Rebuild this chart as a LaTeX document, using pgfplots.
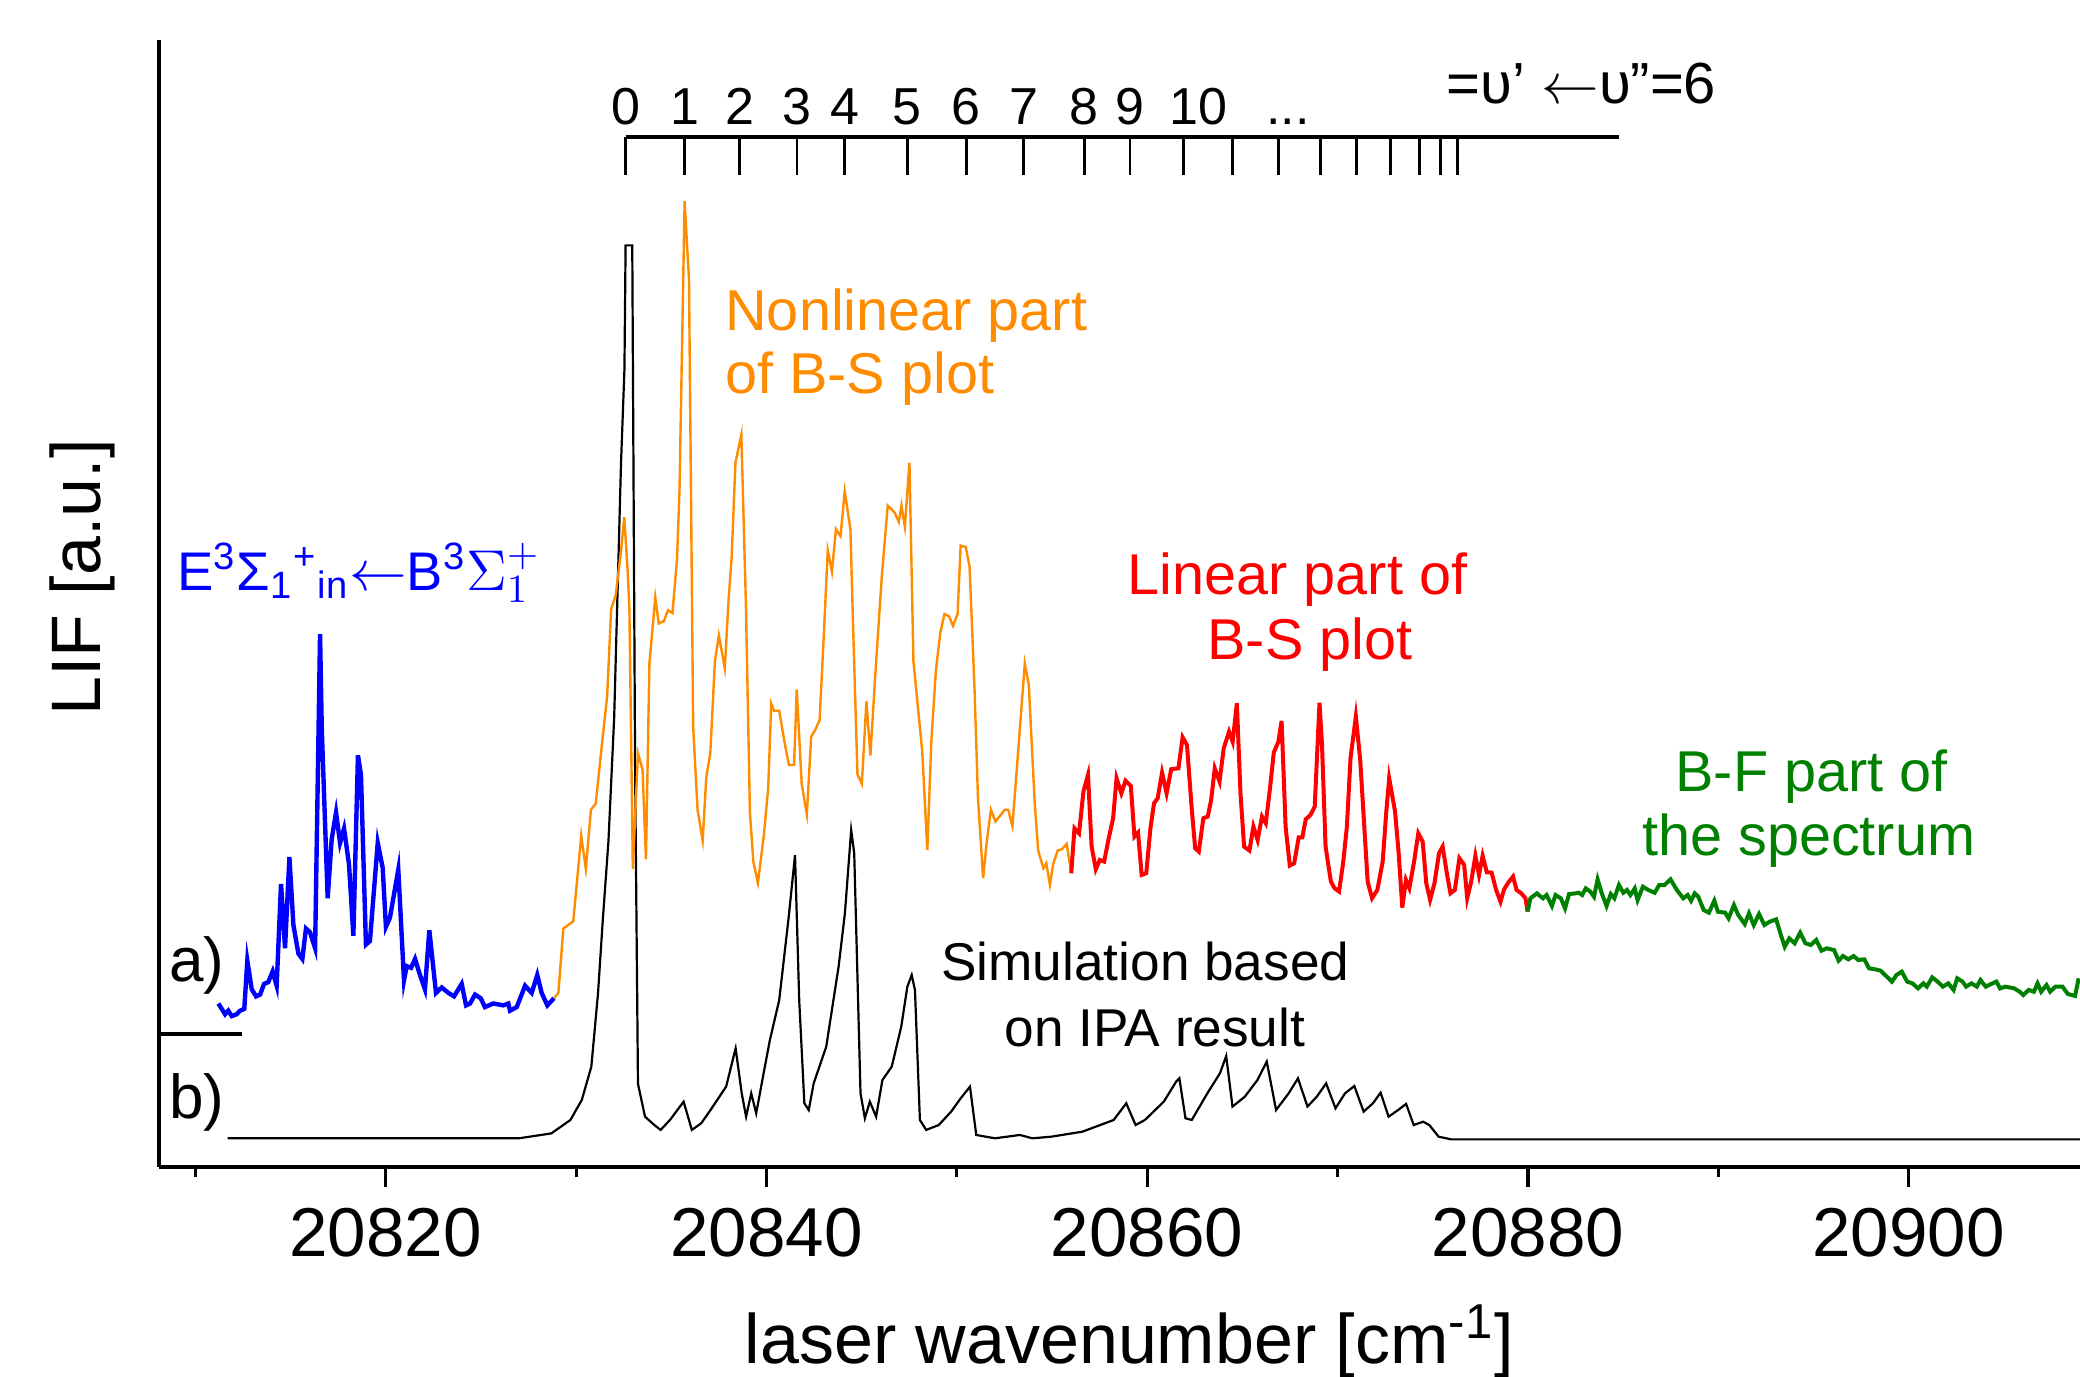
\documentclass[border=0pt]{standalone}
\usepackage{fontspec}
\setmainfont{Liberation Sans}
\usepackage{pgfplots}
\pgfplotsset{compat=1.18}

\definecolor{bsorange}{RGB}{255,140,0}
\definecolor{bfgreen}{RGB}{0,128,0}
\newcommand{\lblfont}{\fontsize{14.4}{17}\selectfont}

\begin{document}
\begin{tikzpicture}
\begin{axis}[
  scale only axis,
  width=480.2pt, height=281.9pt,
  xmin=20808.1, xmax=20909,
  ymin=0, ymax=850,
  axis x line*=bottom, axis y line*=left,
  axis line style={line width=1pt},
  xtick={20820,20840,...,20900},
  minor xtick={20810,20830,...,20890},
  ytick=\empty,
  scaled x ticks=false,
  tick align=outside,
  major tick length=5pt, minor tick length=2.5pt,
  every tick/.style={black, line width=0.8pt},
  /pgf/number format/assume math mode=true,
  x tick label style={font=\fontsize{17.3}{20}\selectfont, yshift=-1.7pt,
    /pgf/number format/fixed, /pgf/number format/precision=0, /pgf/number format/1000 sep={}},
  xlabel={laser wavenumber [cm\textsuperscript{-1}]},
  ylabel={LIF [a.u.]},
  label style={font=\fontsize{17.5}{20}\selectfont},
  xlabel style={at={(axis description cs:0.505,-0.154)}, anchor=center},
  ylabel style={at={(axis description cs:-0.0401,0.523)}, anchor=center},
  unbounded coords=jump,
  clip=false,
]
\coordinate (bl) at (rel axis cs:0,0);
\coordinate (tr) at (rel axis cs:1,1);

% b) simulation
\addplot[black, line width=0.55pt] coordinates {
(20811.7,22)(20826.9,22)(20827.05,22)(20828.7,25.6)(20829.7,35.7)(20830.3,50.8)(20830.8,75.9)
(20831.15,131)(20831.4,186)(20831.7,246)(20832.0,339)(20832.36,531)(20832.54,602)(20832.6,695)
(20832.95,695)(20833.1,300)(20833.25,63)(20833.62,38.2)(20834.11,31.9)(20834.44,28.2)(20834.93,35.7)
(20835.65,49.5)(20836.08,28.2)(20836.57,33.2)(20837.06,43.2)(20837.88,60.8)(20838.38,89.7)(20838.70,55.8)
(20838.93,38.2)(20839.20,55.8)(20839.46,40.7)(20839.85,70.9)(20840.18,96.0)(20840.67,126.1)(20841.17,189.0)
(20841.50,235.4)(20841.72,126.1)(20841.99,48.3)(20842.22,43.2)(20842.48,63.3)(20843.14,91.0)(20843.79,151.3)
(20844.12,191.5)(20844.45,254.3)(20844.61,236.7)(20844.94,55.8)(20845.17,37.0)(20845.43,49.5)(20845.76,38.2)
(20846.09,65.8)(20846.58,75.9)(20847.08,106.0)(20847.40,136.2)(20847.63,145.0)(20847.80,133.7)(20848.06,35.7)
(20848.39,28.2)(20849.05,31.9)(20849.70,42.0)(20850.20,52.0)(20850.69,60.8)(20851.02,24.4)(20852.0,21.9)
(20853.31,24.4)(20853.97,21.9)(20854.96,23.1)(20856.6,26.9)(20858.24,35.7)(20858.9,48.3)(20859.39,31.9)
(20859.88,35.7)(20860.87,49.5)(20861.52,64.6)(20861.69,67.1)(20862.01,37.0)(20862.34,35.7)(20863.16,55.8)
(20863.82,70.9)(20864.15,83.9)(20864.48,45.8)(20865.13,53.3)(20865.79,65.8)(20866.28,79.7)(20866.77,43.2)
(20867.43,55.8)(20867.92,67.1)(20868.42,45.8)(20868.91,53.3)(20869.40,63.3)(20869.89,44.5)(20870.39,55.8)
(20870.88,61.3)(20871.37,42.0)(20871.86,48.3)(20872.26,56.3)(20872.68,38.2)(20873.18,43.2)(20873.60,47.8)
(20874.0,31.9)(20874.49,34.4)(20874.82,31.9)(20875.31,23.1)(20875.97,21.1)(20909,21.1)
};

% a) E <- B band (blue)
\addplot[blue, line width=1.1pt] coordinates {
(20811.21,123.5)(20811.56,115.4)(20811.73,118.1)(20811.91,114.0)(20812.17,115.4)(20812.35,118.1)(20812.57,119.4)
(20812.73,155.8)(20812.96,134.2)(20813.19,128.9)(20813.40,130.2)(20813.61,138.3)(20813.83,139.6)(20814.06,147.7)
(20814.27,136.9)(20814.50,213.6)(20814.71,165.2)(20814.94,233.9)(20815.15,182.7)(20815.41,161.2)(20815.62,157.1)
(20815.81,180.0)(20816.02,177.3)(20816.29,165.2)(20816.55,402)(20816.64,330.8)(20816.95,202.9)(20817.16,247.3)
(20817.39,267.5)(20817.60,244.6)(20817.81,255.4)(20818.07,228.5)(20818.30,174.6)(20818.54,310.6)(20818.70,295.8)
(20818.96,167.9)(20819.17,170.6)(20819.58,244.6)(20819.84,225.8)(20820.01,181.3)(20820.22,188.1)(20820.66,224.4)
(20820.96,141.0)(20821.10,151.7)(20821.33,150.4)(20821.54,157.1)(20821.80,145.0)(20822.06,134.2)(20822.29,178.7)
(20822.64,131.5)(20822.94,135.6)(20823.29,131.5)(20823.59,128.9)(20823.99,138.3)(20824.22,122.1)(20824.43,123.5)
(20824.69,130.2)(20824.99,127.5)(20825.21,120.8)(20825.65,123.5)(20826.18,122.1)(20826.44,123.5)(20826.53,118.1)
(20826.88,120.8)(20827.32,136.9)(20827.67,131.5)(20827.96,145.0)(20828.19,131.5)(20828.49,122.1)(20828.84,127.5)
};

% a) nonlinear part (orange)
\addplot[bsorange, line width=0.6pt] coordinates {
(20828.84,127.5)(20829.07,131.5)(20829.33,180.0)(20829.85,185.4)(20830.27,250.0)(20830.51,225.1)(20830.78,269.6)
(20831.03,274.2)(20831.36,319.3)(20831.63,354.9)(20831.84,420.7)(20832.08,431.4)(20832.35,463.4)(20832.53,490.0)
(20832.71,449.1)(20832.80,420.7)(20832.98,225.1)(20833.25,312.2)(20833.49,299.8)(20833.67,232.2)(20833.85,379.8)
(20834.16,429.6)(20834.34,410.0)(20834.61,411.8)(20834.83,420.0)(20835.06,417.8)(20835.30,458.0)(20835.43,509.6)
(20835.70,728.3)(20835.93,669.6)(20836.15,331.8)(20836.38,269.6)(20836.65,246.4)(20836.84,294.5)(20837.05,312.2)
(20837.29,381.6)(20837.50,401.1)(20837.81,376.2)(20838.01,427.8)(20838.17,459.8)(20838.37,531.1)(20838.68,552.3)
(20838.92,424.3)(20839.13,267.8)(20839.31,230.4)(20839.55,214.4)(20839.86,250.0)(20840.09,285.6)(20840.25,349.6)
(20840.40,344.2)(20840.67,344.2)(20840.94,321.1)(20841.18,303.3)(20841.45,303.3)(20841.59,360.2)(20841.85,289.1)
(20842.12,266.0)(20842.35,324.7)(20842.57,330.0)(20842.79,337.1)(20842.97,388.7)(20843.22,465.1)(20843.44,449.1)
(20843.65,481.1)(20843.89,475.8)(20844.11,509.6)(20844.41,481.1)(20844.56,402.9)(20844.78,296.2)(20845.01,289.1)
(20845.25,351.3)(20845.46,310.4)(20845.73,374.5)(20846.06,445.6)(20846.37,498.9)(20846.73,493.6)(20846.95,486.5)
(20847.09,498.9)(20847.27,482.9)(20847.51,531.1)(20847.72,381.6)(20848.18,314.0)(20848.45,239.3)(20848.66,321.1)
(20848.90,374.5)(20849.13,402.9)(20849.35,417.1)(20849.59,415.4)(20849.80,408.2)(20850.04,417.1)(20850.20,468.7)
(20850.47,467.6)(20850.67,452.7)(20850.93,360.2)(20851.11,278.4)(20851.38,218.0)(20851.58,246.4)(20851.79,269.6)
(20852.03,260.7)(20852.52,269.6)(20852.70,269.6)(20852.92,257.1)(20853.28,324.7)(20853.57,379.8)(20853.78,363.8)
(20854.09,274.9)(20854.27,239.3)(20854.36,234.3)(20854.55,225.5)(20854.70,229.2)(20854.89,212.9)(20855.07,229.2)
(20855.30,238.8)(20855.52,239.8)(20855.77,243.8)(20856.01,221.7)
};

% a) linear part (red)
\addplot[red, line width=1pt] coordinates {
(20856.01,221.7)(20856.18,255.6)(20856.42,251.8)(20856.65,283.3)(20856.89,295.8)(20857.08,241.8)(20857.30,224.7)
(20857.51,231.7)(20857.74,230.5)(20857.96,246.8)(20858.21,263.2)(20858.39,293.3)(20858.64,282.0)(20858.86,291.5)
(20859.14,287.5)(20859.33,249.3)(20859.52,252.3)(20859.71,220.4)(20859.95,221.7)(20860.17,255.6)(20860.36,274.5)
(20860.55,278.2)(20860.78,297.6)(20861.02,282.0)(20861.26,300.1)(20861.64,300.8)(20861.86,324.2)(20862.09,318.4)
(20862.33,272.0)(20862.52,240.5)(20862.71,238.0)(20862.95,263.2)(20863.18,264.4)(20863.36,277.0)(20863.55,300.8)
(20863.80,290.8)(20864.02,315.9)(20864.30,328.5)(20864.49,320.9)(20864.71,349.8)(20864.90,282.0)(20865.09,241.8)
(20865.37,238.8)(20865.58,256.9)(20865.80,246.8)(20866.03,264.4)(20866.23,259.4)(20866.46,287.0)(20866.65,312.7)
(20866.89,320.9)(20867.06,336.5)(20867.27,256.9)(20867.49,227.5)(20867.72,229.2)(20867.96,248.8)(20868.15,248.8)
(20868.33,262.4)(20868.58,265.7)(20868.80,272.0)(20869.05,350.3)(20869.18,319.7)(20869.37,241.8)(20869.65,215.4)
(20869.84,210.4)(20870.08,207.9)(20870.30,230.5)(20870.49,256.9)(20870.68,308.4)(20870.96,339.8)(20871.19,307.1)
(20871.43,250.6)(20871.58,215.4)(20871.81,202.9)(20872.09,209.1)(20872.37,230.5)(20872.56,268.2)(20872.71,293.3)
(20873.02,268.2)(20873.21,236.8)(20873.40,195.8)(20873.59,216.7)(20873.77,210.4)(20874.02,230.5)(20874.24,251.8)
(20874.47,245.6)(20874.66,214.2)(20874.86,201.6)(20875.09,214.2)(20875.33,236.8)(20875.52,241.8)(20875.74,221.7)
(20875.93,206.6)(20876.16,209.1)(20876.40,233.0)(20876.65,228.0)(20876.81,202.9)(20877.02,215.4)(20877.24,234.8)
(20877.43,220.4)(20877.62,234.8)(20877.84,222.4)(20878.09,222.2)(20878.33,209.1)(20878.56,200.3)(20878.75,209.6)
(20878.97,214.7)(20879.22,219.2)(20879.40,209.1)(20879.65,206.6)(20879.87,202.9)(20879.98,192.8)
};

% a) B-F part (green)
\addplot[bfgreen, line width=1pt] coordinates {
(20879.98,192.8)(20880.13,202.8)(20880.47,206.5)(20880.79,202.8)(20880.98,205.3)(20881.26,197.0)(20881.45,205.3)
(20881.73,202.8)(20881.95,195.2)(20882.16,206.0)(20882.48,206.5)(20882.67,207.0)(20882.85,205.3)(20883.04,210.3)
(20883.28,207.8)(20883.47,204.0)(20883.66,217.1)(20883.88,206.5)(20884.13,197.0)(20884.35,206.0)(20884.54,202.8)
(20884.78,212.8)(20885.01,207.0)(20885.20,209.1)(20885.38,205.3)(20885.61,210.3)(20885.76,201.5)(20886.04,211.6)
(20886.32,209.1)(20886.66,207.0)(20886.89,212.8)(20887.17,212.8)(20887.49,217.1)(20887.82,209.1)(20888.16,202.8)
(20888.39,205.3)(20888.57,201.0)(20888.76,206.5)(20888.95,204.0)(20889.23,194.0)(20889.51,192.0)(20889.79,201.0)
(20889.98,192.7)(20890.36,192.0)(20890.54,187.7)(20890.82,197.7)(20891.05,190.2)(20891.39,183.4)(20891.61,191.5)
(20891.86,182.7)(20892.14,191.0)(20892.42,182.7)(20892.70,185.2)(20893.04,186.9)(20893.26,176.4)(20893.49,166.3)
(20893.73,172.6)(20894.01,168.9)(20894.30,176.9)(20894.58,168.9)(20894.86,167.6)(20895.14,171.4)(20895.42,163.3)
(20895.70,165.1)(20896.08,163.8)(20896.32,155.8)(20896.55,159.3)(20896.83,156.8)(20897.11,159.3)(20897.35,156.3)
(20897.67,156.8)(20897.92,150.0)(20898.23,149.3)(20898.52,148.3)(20898.89,143.2)(20899.12,140.0)(20899.36,145.0)
(20899.64,147.5)(20899.92,140.0)(20900.20,138.7)(20900.49,134.9)(20900.77,138.7)(20900.95,136.2)(20901.24,143.2)
(20901.52,140.0)(20901.80,136.2)(20902.08,138.7)(20902.36,133.7)(20902.55,142.5)(20902.83,140.0)(20903.02,136.2)
(20903.30,138.7)(20903.58,136.2)(20903.77,141.2)(20904.05,136.2)(20904.33,138.2)(20904.61,140.0)(20904.80,134.9)
(20905.08,136.2)(20905.55,134.9)(20905.83,132.4)(20906.02,129.9)(20906.30,133.7)(20906.58,132.4)(20906.77,138.7)
(20906.96,132.4)(20907.24,137.4)(20907.43,132.4)(20907.71,136.2)(20908.08,136.2)(20908.36,130.7)(20908.74,129.2)
(20908.93,142.5)
};

% zero level marker of trace a)
\addplot[black, line width=0.8pt] coordinates {(20808.1,100.5)(20812.43,100.5)};

% vibrational assignment comb
\addplot[black, line width=1pt] coordinates {(20832.6,776.5)(20884.8,776.5)};
\addplot[black, line width=0.7pt] coordinates {
(20832.6,776.5)(20832.6,748)(20832.6,nan)
(20835.7,776.5)(20835.7,748)(20835.7,nan)
(20838.6,776.5)(20838.6,748)(20838.6,nan)
(20841.6,776.5)(20841.6,748)(20841.6,nan)
(20844.1,776.5)(20844.1,748)(20844.1,nan)
(20847.4,776.5)(20847.4,748)(20847.4,nan)
(20850.5,776.5)(20850.5,748)(20850.5,nan)
(20853.5,776.5)(20853.5,748)(20853.5,nan)
(20856.7,776.5)(20856.7,748)(20856.7,nan)
(20859.1,776.5)(20859.1,748)(20859.1,nan)
(20861.9,776.5)(20861.9,748)(20861.9,nan)
(20864.5,776.5)(20864.5,748)(20864.5,nan)
(20866.9,776.5)(20866.9,748)(20866.9,nan)
(20869.1,776.5)(20869.1,748)(20869.1,nan)
(20871.0,776.5)(20871.0,748)(20871.0,nan)
(20872.8,776.5)(20872.8,748)(20872.8,nan)
(20874.3,776.5)(20874.3,748)(20874.3,nan)
(20875.4,776.5)(20875.4,748)(20875.4,nan)
(20876.3,776.5)(20876.3,748)
};

\begin{scope}[every node/.style={font=\fontsize{13}{15}\selectfont, anchor=base, inner sep=0pt}]
\node at (axis cs:20832.6,786) {0};
\node at (axis cs:20835.7,786) {1};
\node at (axis cs:20838.6,786) {2};
\node at (axis cs:20841.6,786) {3};
\node at (axis cs:20844.1,786) {4};
\node at (axis cs:20847.4,786) {5};
\node at (axis cs:20850.5,786) {6};
\node at (axis cs:20853.5,786) {7};
\node at (axis cs:20856.7,786) {8};
\node at (axis cs:20859.1,786) {9};
\node at (axis cs:20862.7,786) {10};
\node at (axis cs:20867.4,786) {...};
\node[anchor=base west, font=\fontsize{14.5}{17}\selectfont] at (axis cs:20875.7,802) {=υ' $\leftarrow$υ"=6};
\end{scope}

\node[anchor=base west, inner sep=0pt, font=\lblfont, text=bsorange] at (axis cs:20837.8,631) {Nonlinear part};
\node[anchor=base west, inner sep=0pt, font=\lblfont, text=bsorange] at (axis cs:20837.8,583.5) {of B-S plot};
\node[anchor=base, inner sep=0pt, font=\lblfont, text=red] at (axis cs:20867.9,432.2) {Linear part of};
\node[anchor=base, inner sep=0pt, font=\lblfont, text=red] at (axis cs:20868.55,382.5) {B-S plot};
\node[anchor=base, inner sep=0pt, font=\lblfont, text=bfgreen] at (axis cs:20894.9,283) {B-F part of};
\node[anchor=base, inner sep=0pt, font=\lblfont, text=bfgreen] at (axis cs:20894.75,235) {the spectrum};
\node[anchor=base west, inner sep=0pt, font=\fontsize{13.6}{16}\selectfont, text=blue] at (axis cs:20809.0,435.2)
  {E\textsuperscript{3}Σ\textsubscript{1}\textsuperscript{+}\textsubscript{in}$\leftarrow$B\textsuperscript{3}$\Sigma_1^+$};
\node[anchor=base, inner sep=0pt, font=\fontsize{13.3}{15}\selectfont] at (axis cs:20859.9,141.2) {Simulation based};
\node[anchor=base, inner sep=0pt, font=\fontsize{13.3}{15}\selectfont] at (axis cs:20860.4,91) {on IPA result};
\node[anchor=base west, inner sep=0pt, font=\fontsize{15.5}{18}\selectfont] at (axis cs:20808.6,140) {a)};
\node[anchor=base west, inner sep=0pt, font=\fontsize{15.5}{18}\selectfont] at (axis cs:20808.6,37) {b)};
\end{axis}
\pgfresetboundingbox
\useasboundingbox ([xshift=-39.8pt,yshift=-52.4pt]bl) rectangle ([yshift=9.95pt]tr);
\end{tikzpicture}
\end{document}
